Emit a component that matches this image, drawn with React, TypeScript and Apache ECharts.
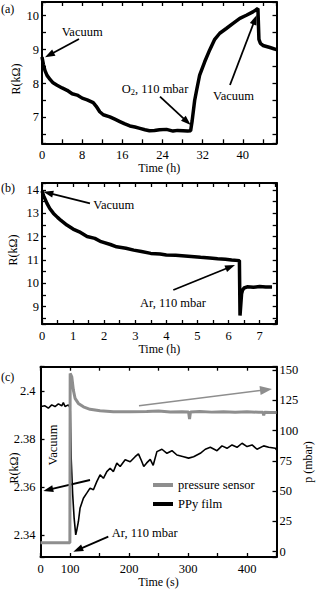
import React, { useEffect, useRef } from "react";
import * as echarts from "echarts";

// ---------- Panel (a): resistance vs time (h) ----------
const tA = [0, 0.3, 0.6, 1, 1.6, 2.2, 3, 4, 5, 6, 7, 8, 9, 10.2, 10.8, 11.5, 12.2, 13.5, 14.5, 15.5, 16.5, 17.5, 18.5, 19.5, 20.5, 21.4, 22.4, 23.4, 24.8, 26.1, 27, 28.1, 29, 29.6, 29.9, 30.4, 30.8, 31.4, 32.4, 33.4, 34.4, 35.4, 36.7, 38.05, 39.4, 40.7, 42, 43, 43.2, 43.5, 44, 45.4, 46.7];
const rA = [8.78, 8.55, 8.38, 8.24, 8.12, 8.02, 7.95, 7.87, 7.8, 7.7, 7.66, 7.57, 7.52, 7.44, 7.33, 7.17, 7.08, 7.02, 6.95, 6.88, 6.81, 6.75, 6.72, 6.68, 6.64, 6.61, 6.62, 6.64, 6.65, 6.6, 6.62, 6.61, 6.6, 6.61, 6.9, 7.5, 7.81, 8.25, 8.64, 8.99, 9.3, 9.48, 9.62, 9.77, 9.92, 10.01, 10.11, 10.21, 9.3, 9.18, 9.12, 9.06, 9.0];

// ---------- Panel (b) ----------
const tB = [0, 0.05, 0.1, 0.16, 0.25, 0.37, 0.5, 0.6, 0.8, 1.0, 1.2, 1.45, 1.7, 1.9, 2.2, 2.4, 2.7, 2.95, 3.2, 3.5, 3.8, 4.0, 4.3, 4.6, 4.9, 5.1, 5.4, 5.65, 5.9, 6.1, 6.35, 6.37, 6.42, 6.45, 6.5, 6.6, 6.8, 7.0, 7.2, 7.4];
const rB = [13.95, 13.75, 13.6, 13.42, 13.2, 12.99, 12.82, 12.7, 12.49, 12.32, 12.2, 12.0, 11.92, 11.78, 11.66, 11.56, 11.5, 11.42, 11.36, 11.28, 11.25, 11.21, 11.2, 11.17, 11.14, 11.11, 11.08, 11.05, 11.03, 11.0, 10.97, 8.62, 9.55, 9.7, 9.8, 9.85, 9.83, 9.86, 9.84, 9.84];

// ---------- Panel (c): PPy film resistance and pressure vs time (s) ----------
const tFilm = [50.8, 57.6, 63.3, 69, 74.6, 80.3, 86, 88.7, 91.6, 97.2, 100.3, 102, 104.5, 107, 109.7, 111.5, 114.2, 117, 122.7, 128.4, 134, 139.7, 145.4, 151, 156.6, 162.4, 168, 173.6, 179.4, 185, 193.5, 202, 210.4, 216, 221, 225, 230, 236, 241, 247.3, 255.8, 264.3, 272.8, 281.2, 292.5, 301, 309.5, 320.8, 329.3, 337.8, 349.2, 357.6, 366.1, 374.6, 383.1, 391.6, 400.1, 408.6, 417, 428.3, 436.8, 448.1, 450];
const rFilm = [2.3935, 2.3938, 2.3928, 2.3942, 2.3935, 2.3946, 2.3938, 2.3951, 2.3935, 2.3942, 2.393, 2.372, 2.357, 2.347, 2.34, 2.342, 2.3455, 2.3511, 2.3553, 2.3574, 2.3595, 2.3588, 2.3622, 2.365, 2.3636, 2.3664, 2.3678, 2.3664, 2.3699, 2.3685, 2.3713, 2.3705, 2.3726, 2.3738, 2.371, 2.3685, 2.37, 2.3715, 2.369, 2.3747, 2.3757, 2.374, 2.3751, 2.3733, 2.3726, 2.372, 2.3726, 2.374, 2.3757, 2.3765, 2.3751, 2.3771, 2.3761, 2.3775, 2.3765, 2.3782, 2.3768, 2.3775, 2.3757, 2.3771, 2.3765, 2.3761, 2.3755];
const tPress = [50, 60, 70, 80, 90, 99.8, 100.3, 101.5, 103, 105.7, 108.6, 114.2, 122.7, 134, 151, 173.6, 202, 230, 250, 270, 290, 301, 302.6, 304.2, 320, 340, 360, 380, 400, 420, 427, 428.3, 429.6, 440, 450];
const pPress = [7.4, 7.4, 7.4, 7.4, 7.4, 7.4, 147, 146, 144.4, 133.4, 126.6, 122.4, 119.6, 117.5, 116.3, 115.5, 115.5, 115.8, 116.2, 115.3, 115.6, 115.4, 109.5, 115.4, 115.7, 115.2, 115.6, 115.1, 115.5, 115.0, 115.2, 112.5, 115, 114.9, 114.8];

const FONT = "'Liberation Serif', 'Times New Roman', serif";
const GRAY = "#8e8e8e";

const near = (v: number, step: number) => Math.abs(v / step - Math.round(v / step)) < 1e-6;

const axisLine = { show: true, onZero: false, lineStyle: { color: "#000", width: 2 } };
const axisTick = { show: true, inside: true, length: 4, lineStyle: { color: "#000", width: 1.3 } };

function xAx(grid: number, pos: string, min: number, max: number, step: number, fmt: any, name?: string, gap?: number) {
  return {
    type: "value", gridIndex: grid, position: pos, min, max, minInterval: step, maxInterval: step,
    axisLine, axisTick, splitLine: { show: false },
    axisLabel: fmt ? { show: true, interval: 0, margin: 5, color: "#000", fontFamily: FONT, fontSize: 12.5, formatter: fmt, showMinLabel: true, showMaxLabel: true } : { show: false },
    name: name || "", nameLocation: "middle", nameGap: gap || 0,
    nameTextStyle: { color: "#000", fontFamily: FONT, fontSize: 12 },
  };
}
function yAx(grid: number, pos: string, min: number, max: number, step: number, fmt: any, margin = 3) {
  return {
    type: "value", gridIndex: grid, position: pos, min, max, minInterval: step, maxInterval: step,
    axisLine, axisTick, splitLine: { show: false },
    axisLabel: fmt ? { show: true, interval: 0, margin, color: "#000", fontFamily: FONT, fontSize: 12.5, formatter: fmt } : { show: false },
  };
}

function txt(s: string, x: number, y: number, extra: any = {}) {
  return { type: "text", x, y, silent: true, ...extra, style: { text: s, fill: "#000", fontFamily: FONT, fontSize: 12.5, align: "left", verticalAlign: "middle", ...(extra.style || {}) } };
}
function arrow(x1: number, y1: number, x2: number, y2: number, color = "#000", w = 1.8, hl = 10, hw = 7) {
  const dx = x2 - x1, dy = y2 - y1, L = Math.sqrt(dx * dx + dy * dy);
  const ux = dx / L, uy = dy / L;
  const bx = x2 - ux * hl, by = y2 - uy * hl;
  const px = -uy * hw / 2, py = ux * hw / 2;
  return {
    type: "group", silent: true,
    children: [
      { type: "line", shape: { x1, y1, x2: bx + ux * 2, y2: by + uy * 2 }, style: { stroke: color, lineWidth: w } },
      { type: "polygon", shape: { points: [[x2, y2], [bx + px, by + py], [bx - px, by - py]] }, style: { fill: color } },
    ],
  };
}

export default function App() {
  const ref = useRef<HTMLDivElement>(null);
  useEffect(() => {
    const chart = echarts.init(ref.current!, null, { renderer: "svg" });
    const fmtA = (v: number) => (near(v, 8) ? String(Math.round(v)) : "");
    const fmtInt = (v: number) => (near(v, 1) ? String(Math.round(v)) : "");
    const fmtC = (v: number) => (Math.abs(v - 50) < 1e-6 ? "0" : near(v, 100) && v < 449 ? String(Math.round(v)) : "");
    const fmtR = (v: number) => (near(v, 0.02) ? String(+(Math.round(v / 0.02) * 0.02).toFixed(2)) : "");
    const fmtP = (v: number) => (near(v, 25) ? String(Math.round(v)) : "");

    chart.setOption({
      animation: false,
      backgroundColor: "#fff",
      grid: [
        { left: 42, top: 2, width: 234.5, height: 141.3 },
        { left: 42, top: 183, width: 234.7, height: 141 },
        { left: 40.5, top: 366.7, width: 236, height: 190.3 },
      ],
      xAxis: [
        xAx(0, "bottom", 0, 46.7, 4, fmtA, "Time (h)", 14),
        xAx(0, "top", 0, 46.7, 4, null),
        xAx(1, "bottom", 0, 7.55, 0.5, fmtInt, "Time (h)", 16.5),
        xAx(1, "top", 0, 7.55, 0.5, null),
        xAx(2, "bottom", 50, 450, 50, fmtC, "Time (s)", 17),
        xAx(2, "top", 50, 450, 50, null),
      ],
      yAxis: [
        yAx(0, "left", 6.24, 10.4, 0.5, fmtInt),
        yAx(0, "right", 6.24, 10.4, 0.5, null),
        yAx(1, "left", 8.26, 14.29, 0.5, fmtInt),
        yAx(1, "right", 8.26, 14.29, 0.5, null),
        yAx(2, "left", 2.3308, 2.4101, 0.02, fmtR, 5),
        yAx(2, "right", -4.4, 152.7, 25, fmtP, 3),
      ],
      legend: {
        data: ["pressure sensor", "PPy film"],
        orient: "vertical", left: 148, top: 473.5, icon: "rect",
        itemWidth: 20, itemHeight: 4, itemGap: 6,
        textStyle: { color: "#000", fontFamily: FONT, fontSize: 12.5 },
      },
      series: [
        {
          type: "line", name: "a", xAxisIndex: 0, yAxisIndex: 0, showSymbol: false, symbol: "none",
          data: tA.map((t, i) => [t, rA[i]]), color: "#000", lineStyle: { color: "#000", width: 3.5 },
        },
        {
          type: "line", name: "b", xAxisIndex: 2, yAxisIndex: 2, showSymbol: false, symbol: "none",
          data: tB.map((t, i) => [t, rB[i]]), color: "#000", lineStyle: { color: "#000", width: 3.5 },
        },
        {
          type: "line", name: "PPy film", xAxisIndex: 4, yAxisIndex: 4, showSymbol: false, symbol: "none",
          data: tFilm.map((t, i) => [t, rFilm[i]]), color: "#000", lineStyle: { color: "#000", width: 1.6 },
        },
        {
          type: "line", name: "pressure sensor", xAxisIndex: 4, yAxisIndex: 5, showSymbol: false, symbol: "none",
          data: tPress.map((t, i) => [t, pPress[i]]), color: GRAY, lineStyle: { color: GRAY, width: 3 },
        },
      ],
      graphic: {
        elements: [
          txt("(a)", 1, 8.5, { style: { fontSize: 12 } }),
          txt("Vacuum", 61.7, 32),
          arrow(79, 39, 45, 57.3),
          {
            type: "text", x: 121.7, y: 89, silent: true,
            style: {
              text: "{a|O}{s|2}{a|, 110 mbar}", fill: "#000", fontFamily: FONT, fontSize: 12.5, align: "left", verticalAlign: "middle",
              rich: { a: { fontFamily: FONT, fontSize: 12.5, fill: "#000" }, s: { fontFamily: FONT, fontSize: 8.5, fill: "#000", padding: [6, 0, 0, 0] } },
            },
          },
          arrow(160, 96.7, 190.7, 125),
          txt("Vacuum", 213, 95.7),
          arrow(230, 85, 256.7, 15),
          txt("(b)", 1, 188.3, { style: { fontSize: 12 } }),
          txt("Vacuum", 93.3, 204.5),
          arrow(90, 203.3, 43.3, 191.7),
          txt("Ar, 110 mbar", 140, 303.3),
          arrow(173.3, 290, 235, 265),
          txt("(c)", 1, 376.7, { style: { fontSize: 12 } }),
          txt("Vacuum", 52.5, 445, { rotation: Math.PI / 2, style: { align: "center" } }),
          arrow(139, 405.7, 272, 389, GRAY, 1.6, 12, 9),
          arrow(90, 480, 43.3, 491),
          arrow(108.3, 536.7, 73.3, 551.7),
          txt("Ar, 110 mbar", 111.7, 533.3),
          txt("R(kΩ)", 15.8, 79, { rotation: Math.PI / 2, style: { align: "center", fontSize: 12 } }),
          txt("R(kΩ)", 12.5, 250, { rotation: Math.PI / 2, style: { align: "center", fontSize: 12 } }),
          txt("R(kΩ)", 14, 468, { rotation: Math.PI / 2, style: { align: "center", fontSize: 12 } }),
          txt("p (mbar)", 308, 462, { rotation: Math.PI / 2, style: { align: "center", fontSize: 12 } }),
        ],
      },
    });
    return () => chart.dispose();
  }, []);
  return <div ref={ref} style={{ position: "absolute", left: 0, top: 0, width: 317, height: 589 }} />;
}
